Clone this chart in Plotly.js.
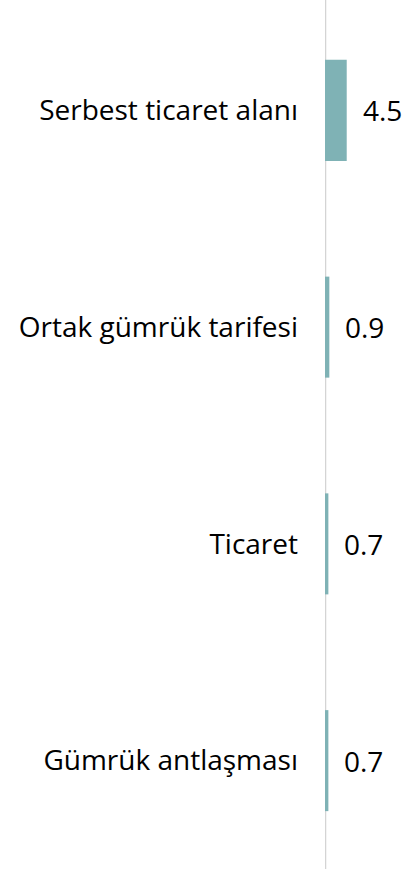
<!DOCTYPE html>
<html><head><meta charset="utf-8">
<script src="https://cdn.plot.ly/plotly-3.0.1.min.js"></script>
<style>html,body{margin:0;padding:0;background:#fff}#c{width:408px;height:869px}</style>
</head><body><div id="c"></div>
<script>
const categories = ["Serbest ticaret alanı", "Ortak gümrük tarifesi", "Ticaret", "Gümrük antlaşması"];
const values = [4.5, 0.9, 0.7, 0.7];
const valueLabels = ["4.5", "0.9", "0.7", "0.7"];

const FONT = "'Open Sans', 'Liberation Sans', sans-serif";
const trace = {
  type: "bar", orientation: "h",
  x: values, y: categories,
  marker: {color: "#7fb2b5"},
  hoverinfo: "none"
};
const annotations = values.map((v, i) => ({
  x: v, y: categories[i], xref: "x", yref: "y",
  text: valueLabels[i], showarrow: false,
  xanchor: "left", xshift: 14,
  font: {family: FONT, size: 28, color: "#000"}
}));
const layout = {
  width: 408, height: 869,
  margin: {l: 325, r: 0, t: 2, b: 0},
  paper_bgcolor: "#fff", plot_bgcolor: "#fff",
  showlegend: false,
  bargap: 0.534,
  xaxis: {range: [0, 17.2], showgrid: false, zeroline: false, showticklabels: false, ticks: "", fixedrange: true},
  yaxis: {autorange: "reversed", showgrid: false, zeroline: false, showline: false, ticks: "",
          ticklabelstandoff: 26,
          tickfont: {family: FONT, size: 28, color: "#000"}, fixedrange: true},
  shapes: [{type: "line", layer: "below", xref: "x", yref: "paper", x0: 0, x1: 0, y0: -0.01, y1: 1.01,
            line: {color: "#d4d4d4", width: 2.5}}],
  annotations: annotations
};
Plotly.newPlot("c", [trace], layout, {displayModeBar: false, staticPlot: true});
</script></body></html>
